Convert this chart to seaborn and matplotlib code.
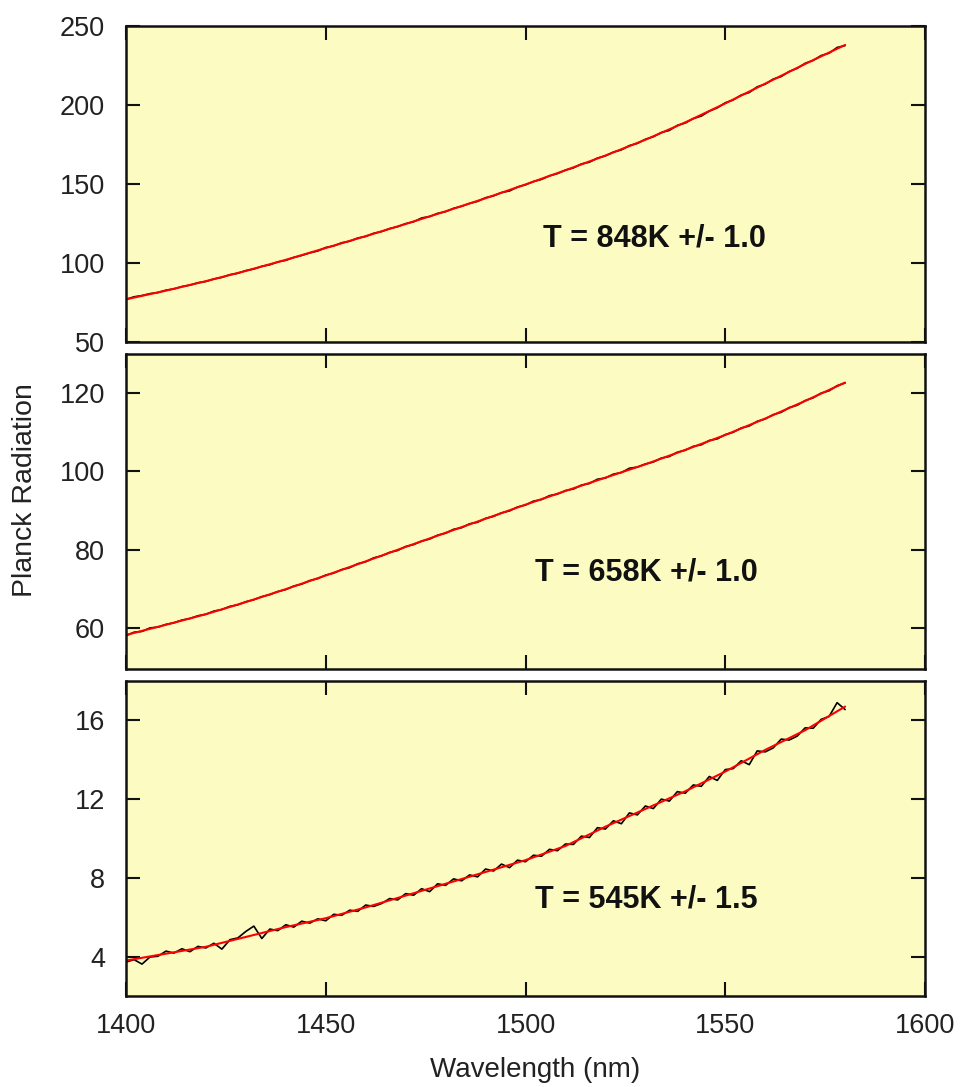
import numpy as np
import pandas as pd
import matplotlib
matplotlib.use("Agg")
import matplotlib.pyplot as plt
import seaborn as sns

sns.set_style("ticks")
plt.rcParams['font.family'] = ['Liberation Sans', 'DejaVu Sans']

# ---------------- data ----------------
wl_data = list(range(1400, 1581, 2))
wl_fit = list(range(1400, 1581, 10))

# panel 1 (T = 848 K)
data_848 = [77.0, 78.6, 79.4, 80.6, 81.3, 82.8, 83.6, 85.1, 86.0, 87.5,
            88.3, 89.9, 90.9, 92.6, 93.5, 95.2, 96.2, 97.9, 98.9, 100.7,
            101.7, 103.5, 104.8, 106.4, 107.6, 109.8, 110.8, 112.8, 113.8, 115.8,
            116.8, 118.8, 119.9, 121.8, 123.0, 124.9, 126.1, 128.5, 129.4, 131.4,
            132.5, 134.6, 135.9, 137.7, 139.0, 141.3, 142.5, 144.6, 145.6, 148.1,
            149.5, 151.6, 152.9, 155.2, 156.6, 158.8, 160.2, 162.7, 163.8, 166.4,
            167.8, 170.2, 171.6, 174.3, 175.7, 178.3, 179.9, 182.6, 183.9, 187.1,
            188.6, 191.4, 193.0, 196.1, 198.2, 201.4, 203.2, 206.3, 207.9, 211.5,
            213.2, 216.4, 218.0, 221.2, 223.2, 226.4, 228.2, 231.3, 232.8, 236.4,
            237.6]
fit_848 = [77.0, 82.5, 88.5, 95.0, 102.0, 109.5, 117.0, 124.7, 132.7, 141.0,
           149.7, 158.7, 168.0, 178.0, 189.0, 201.0, 213.5, 226.0, 238.0]

# panel 2 (T = 658 K)
data_658 = [58.0, 58.9, 59.1, 60.0, 60.2, 60.9, 61.3, 62.0, 62.4, 63.1,
            63.5, 64.3, 64.7, 65.5, 65.9, 66.7, 67.2, 68.0, 68.5, 69.3,
            69.8, 70.7, 71.2, 72.1, 72.6, 73.5, 74.0, 74.9, 75.4, 76.4,
            76.9, 77.9, 78.4, 79.3, 79.8, 80.8, 81.3, 82.2, 82.7, 83.7,
            84.2, 85.2, 85.6, 86.6, 87.0, 88.0, 88.5, 89.4, 89.9, 90.9,
            91.4, 92.4, 92.8, 93.8, 94.2, 95.1, 95.5, 96.5, 96.9, 98.0,
            98.3, 99.3, 99.7, 100.8, 101.1, 101.9, 102.4, 103.4, 103.8, 104.9,
            105.4, 106.4, 106.8, 107.9, 108.3, 109.4, 110.0, 111.1, 111.6, 112.8,
            113.4, 114.5, 115.1, 116.3, 116.9, 118.1, 118.8, 120.0, 120.6, 121.9,
            122.6]
fit_658 = [58.2, 60.8, 63.5, 66.6, 69.9, 73.4, 77.0, 80.7, 84.3, 87.9,
           91.5, 95.0, 98.4, 101.8, 105.5, 109.3, 113.5, 118.0, 122.7]

# panel 3 (T = 545 K)
data_545 = [3.72, 3.85, 3.62, 3.98, 4.02, 4.28, 4.18, 4.40, 4.25, 4.52,
            4.44, 4.68, 4.38, 4.86, 4.95, 5.28, 5.55, 4.92, 5.40, 5.32,
            5.62, 5.50, 5.80, 5.70, 5.92, 5.82, 6.15, 6.10, 6.36, 6.30,
            6.62, 6.55, 6.70, 6.95, 6.88, 7.20, 7.12, 7.45, 7.30, 7.70,
            7.62, 7.95, 7.85, 8.15, 8.05, 8.45, 8.35, 8.70, 8.52, 8.90,
            8.82, 9.15, 9.10, 9.45, 9.38, 9.72, 9.70, 10.12, 10.05, 10.55,
            10.48, 10.90, 10.75, 11.30, 11.20, 11.65, 11.52, 12.00, 11.90, 12.38,
            12.30, 12.72, 12.65, 13.15, 12.95, 13.50, 13.55, 13.95, 13.75, 14.45,
            14.40, 14.60, 15.05, 15.00, 15.20, 15.62, 15.60, 16.05, 16.20, 16.90,
            16.55]
fit_545 = [3.80, 4.15, 4.50, 5.00, 5.50, 5.95, 6.50, 7.10, 7.70, 8.30,
           8.90, 9.62, 10.60, 11.50, 12.40, 13.40, 14.50, 15.50, 16.70]

labels = ["T = 848K +/- 1.0", "T = 658K +/- 1.0", "T = 545K +/- 1.5"]
ylims = [(50, 250), (49.5, 130), (2, 18)]
yticks = [[50, 100, 150, 200, 250], [60, 80, 100, 120], [4, 8, 12, 16]]
xticks = [1400, 1450, 1500, 1550, 1600]
label_pos = [(0.661, 0.329), (0.651, 0.305), (0.651, 0.305)]

datas = [data_848, data_658, data_545]
fits = [fit_848, fit_658, fit_545]

# ---------------- figure ----------------
W, H = 960, 1087
fig = plt.figure(figsize=(W / 100, H / 100), dpi=100)
fig.patch.set_facecolor("white")

panel_px = [(26, 342), (354, 669), (681, 996)]
left_px, right_px = 126, 925
bg = "#FBFBC2"

for i in range(3):
    top, bot = panel_px[i]
    ax = fig.add_axes([left_px / W, 1 - bot / H, (right_px - left_px) / W, (bot - top) / H])
    ax.set_facecolor(bg)
    df_d = pd.DataFrame({"wl": wl_data, "v": datas[i]})
    df_f = pd.DataFrame({"wl": wl_fit, "v": fits[i]})
    sns.lineplot(data=df_d, x="wl", y="v", ax=ax, color="black", linewidth=1.2,
                 estimator=None, sort=False)
    sns.lineplot(data=df_f, x="wl", y="v", ax=ax, color="#FF0000", linewidth=1.5,
                 estimator=None, sort=False)
    ax.set_xlim(1400, 1600)
    ax.set_ylim(*ylims[i])
    ax.set_xticks(xticks)
    ax.set_yticks(yticks[i])
    ax.set_xlabel("")
    ax.set_ylabel("")
    for s in ax.spines.values():
        s.set_visible(True)
        s.set_linewidth(1.8)
        s.set_color("#111111")
    ax.tick_params(axis="both", which="major", direction="in", length=10, width=1.5,
                   top=True, right=True, colors="#111111", labelcolor="#222222",
                   labelsize=19.5)
    ax.tick_params(axis="y", pad=15)
    ax.tick_params(axis="x", pad=12)
    if i < 2:
        ax.tick_params(axis="x", labelbottom=False)
    ax.text(label_pos[i][0], label_pos[i][1], labels[i], transform=ax.transAxes,
            ha="center", va="center", fontsize=22, fontweight="bold", color="#111111")

fig.text(25 / W, 1 - 490 / H, "Planck Radiation", rotation=90, ha="center", va="center",
         fontsize=20.5, color="#222222")
fig.text(535 / W, 1 - 1070 / H, "Wavelength (nm)", ha="center", va="center",
         fontsize=20, color="#222222")

fig.savefig("out.png", dpi=100, facecolor="white")
